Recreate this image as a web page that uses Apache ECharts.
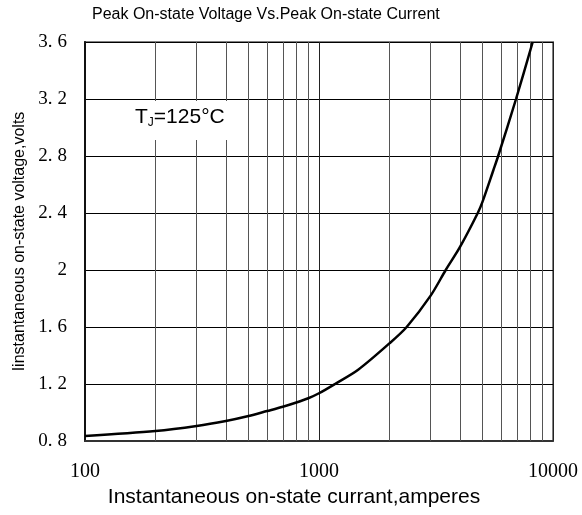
<!DOCTYPE html>
<html>
<head>
<meta charset="utf-8">
<script src="https://cdn.jsdelivr.net/npm/echarts@6/dist/echarts.min.js"></script>
<style>html,body{margin:0;padding:0;background:#fff}#c{width:582px;height:515px}</style>
</head>
<body>
<div id="c"></div>
<script>
// Data
const currentA = [100, 200, 300, 400, 500, 600, 700, 800, 900, 1000, 1170, 1470, 2000, 2370, 3000, 3480, 4000, 4770, 5000, 5560, 5830, 6950, 8190];
const voltageV = [0.835, 0.87, 0.905, 0.94, 0.975, 1.01, 1.04, 1.07, 1.10, 1.135, 1.20, 1.30, 1.485, 1.60, 1.82, 2.00, 2.16, 2.40, 2.48, 2.70, 2.80, 3.20, 3.60];
const minorGridCurrents = [200, 300, 400, 500, 600, 700, 800, 900, 2000, 3000, 4000, 5000, 6000, 7000, 8000, 9000];
const titleText = 'Peak On-state Voltage Vs.Peak On-state Current';
const xName = 'Instantaneous on-state currant,amperes';
const yName = 'Iinstantaneous on-state voltage,volts';

const chart = echarts.init(document.getElementById('c'), null, {renderer: 'canvas'});
const sans = 'Liberation Sans, Arial, sans-serif';
const serif = 'Liberation Serif, DejaVu Serif, serif';

chart.setOption({
  animation: false,
  backgroundColor: '#fff',
  title: {
    text: titleText,
    left: 87, top: 2,
    textStyle: {fontFamily: sans, fontSize: 16, fontWeight: 'normal', color: '#000'}
  },
  grid: {
    left: 85, right: 29, top: 42, bottom: 74,
    show: true, borderColor: '#808080', borderWidth: 2, backgroundColor: 'transparent'
  },
  xAxis: {
    type: 'log', logBase: 10, min: 100, max: 10000, interval: 1,
    name: xName, nameLocation: 'middle', nameGap: 45,
    nameTextStyle: {fontFamily: sans, fontSize: 21, color: '#000', padding: [0, 50, 0, 0]},
    axisLine: {show: true, lineStyle: {color: '#333', width: 2}},
    axisTick: {show: false},
    axisLabel: {fontFamily: serif, fontSize: 20, color: '#000', margin: 21,
      formatter: v => String(Math.round(v))},
    splitLine: {show: true, lineStyle: {color: '#222', width: 1}},
    minorTick: {show: false}, minorSplitLine: {show: false}
  },
  yAxis: {
    type: 'value', min: 0.8, max: 3.6, interval: 0.4,
    name: yName, nameLocation: 'middle', nameGap: 51,
    nameTextStyle: {fontFamily: sans, fontSize: 16, color: '#000'},
    axisLine: {show: true, lineStyle: {color: '#111', width: 2}},
    axisTick: {show: false},
    axisLabel: {color: '#000', margin: 18,
      formatter: v => {
        const s = String(Math.round(v * 10) / 10);
        const p = s.split('.');
        return p.length > 1 ? '{n|' + p[0] + '}{p|.}{n|' + p[1] + '}' : '{n|' + s + '}';
      },
      rich: {
        n: {fontFamily: serif, fontSize: 19, color: '#000'},
        p: {fontFamily: serif, fontSize: 19, color: '#000', padding: [0, 5, 0, 0]}
      }},
    splitLine: {show: true, lineStyle: {color: '#000', width: 1}}
  },
  series: [{
    type: 'line',
    data: currentA.map((c, i) => [c, voltageV[i]]),
    smooth: 0.3,
    showSymbol: false,
    lineStyle: {color: '#000', width: 2.5},
    z: 5,
    markLine: {
      silent: true, symbol: ['none', 'none'], animation: false,
      label: {show: false},
      lineStyle: {type: 'solid', color: '#555', width: 1},
      data: minorGridCurrents.map(v => ({xAxis: v}))
    }
  }],
  graphic: [
    {type: 'rect', z: 100, shape: {x: 86, y: 101, width: 162, height: 39}, style: {fill: '#fff'}},
    {type: 'text', z: 101, x: 135, y: 117,
      style: {
        text: '{a|T}{b|J}{a|=125°C}',
        verticalAlign: 'middle',
        rich: {
          a: {fontFamily: sans, fontSize: 21, color: '#000'},
          b: {fontFamily: sans, fontSize: 12, color: '#000', verticalAlign: 'bottom', padding: [11, 0, 0, 0]}
        }
      }}
  ]
});
</script>
</body>
</html>
